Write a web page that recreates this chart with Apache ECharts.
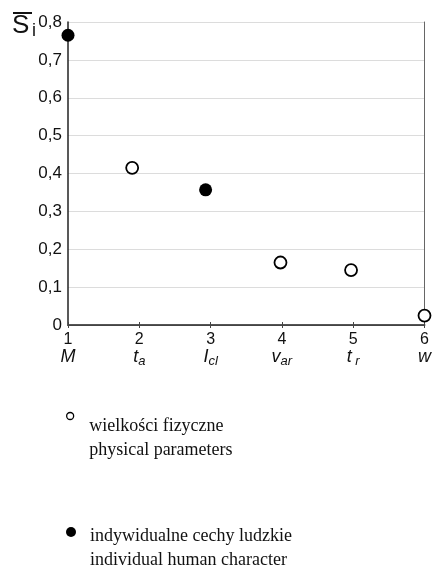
<!DOCTYPE html>
<html><head><meta charset="utf-8">
<script src="https://cdn.jsdelivr.net/npm/echarts@6/dist/echarts.min.js"></script>
<style>html,body{margin:0;padding:0;background:#fff}#c{width:434px;height:578px}</style>
</head><body><div id="c"></div>
<script>
// data
const categoryNumbers = [1, 2, 3, 4, 5, 6];
const categorySymbols = ['{s|M}', '{s|t}{sub|a}', '{s|I}{sub|cl}', '{s|v}{sub|ar}', '{s|t}{sub| r}', '{s|w}'];
const physicalX = [1.9, 3.98, 4.97, 6];
const physicalY = [0.415, 0.165, 0.145, 0.025];
const humanX = [1, 2.93];
const humanY = [0.765, 0.357];
const yTicks = [0, 0.1, 0.2, 0.3, 0.4, 0.5, 0.6, 0.7, 0.8];
const seriesNames = ['wielkości fizyczne', 'indywidualne cechy ludzkie'];
const seriesNamesEn = ['physical parameters', 'individual human character'];

const chart = echarts.init(document.getElementById('c'));
const ff = 'Arial, "Liberation Sans", sans-serif';
const serif = '"Liberation Serif", "Times New Roman", serif';
chart.setOption({
  animation: false,
  grid: { left: 68, right: 5, top: 22, bottom: 253, containLabel: false },
  xAxis: [{
    type: 'value', min: 1, max: 6, interval: 1,
    axisLine: { show: true, lineStyle: { color: '#555', width: 2 } },
    axisTick: { show: true, inside: true, length: 3, lineStyle: { color: '#444' } },
    splitLine: { show: false },
    axisLabel: {
      margin: 7, color: '#111',
      formatter: v => { const i = categoryNumbers.indexOf(v); return i < 0 ? '' : '{n|' + v + '}\n' + categorySymbols[i]; },
      rich: {
        n: { fontSize: 16, fontFamily: ff, lineHeight: 16, color: '#111' },
        s: { fontSize: 18, fontFamily: ff, fontStyle: 'italic', lineHeight: 18, color: '#111' },
        sub: { fontSize: 13, fontFamily: ff, fontStyle: 'italic', lineHeight: 18, padding: [8, 0, 0, 0], color: '#111' }
      }
    }
  }, {
    type: 'value', position: 'top', min: 1, max: 6, interval: 1,
    axisLine: { show: true, lineStyle: { color: '#444' } },
    axisTick: { show: true, inside: true, length: 3, lineStyle: { color: '#444' } },
    axisLabel: { show: false }, splitLine: { show: false }
  }],
  yAxis: [{
    type: 'value', min: yTicks[0], max: yTicks[yTicks.length - 1], interval: 0.1,
    axisLine: { show: true, lineStyle: { color: '#222', width: 1.5 } },
    axisTick: { show: false },
    splitLine: { show: true, lineStyle: { color: '#dcdcdc', width: 1 } },
    axisLabel: { margin: 6, fontSize: 17, fontFamily: ff, color: '#111',
      formatter: v => (Math.round(v * 10) / 10).toString().replace('.', ',') }
  }, {
    type: 'value', position: 'right', min: 0, max: 0.8, interval: 0.1,
    axisLine: { show: true, lineStyle: { color: '#666' } },
    axisTick: { show: false }, axisLabel: { show: false }, splitLine: { show: false }
  }],
  legend: [{
    left: 66, top: 387, padding: 0, orient: 'vertical', data: [seriesNames[0]],
    itemWidth: 28, itemHeight: 7, itemGap: 0, symbolKeepAspect: true,
    itemStyle: { borderWidth: 1.3 },
    textStyle: { color: '#111',
      rich: { pad: { lineHeight: 44, fontSize: 10 }, t: { fontFamily: serif, fontSize: 18, lineHeight: 24, color: '#111' } } },
    formatter: n => '{pad| }\n{t|' + n + '}\n{t|' + seriesNamesEn[0] + '}'
  }, {
    left: 66, top: 503, padding: 0, orient: 'vertical', data: [seriesNames[1]],
    itemWidth: 28, itemHeight: 10, itemGap: 0, symbolKeepAspect: true,
    textStyle: { color: '#111',
      rich: { pad: { lineHeight: 32, fontSize: 10 }, t: { fontFamily: serif, fontSize: 18, lineHeight: 24, color: '#111' } } },
    formatter: n => '{pad| }\n{t|' + n + '}\n{t|' + seriesNamesEn[1] + '}'
  }],
  graphic: [{
    type: 'text', left: 12, top: 13, z: 10,
    style: { text: 'S', font: '26px ' + ff, fill: '#111' }
  }, {
    type: 'rect', shape: { x: 13, y: 12, width: 19, height: 2 }, style: { fill: '#111' }
  }, {
    type: 'text', left: 32, top: 22,
    style: { text: 'i', font: '18px ' + ff, fill: '#111' }
  }],
  series: [{
    name: seriesNames[0], type: 'scatter', symbol: 'circle', symbolSize: 12,
    itemStyle: { color: '#fff', borderColor: '#000', borderWidth: 1.8, opacity: 1 },
    data: physicalX.map((x, i) => [x, physicalY[i]]), clip: false, z: 5
  }, {
    name: seriesNames[1], type: 'scatter', symbol: 'circle', symbolSize: 13,
    itemStyle: { color: '#000', borderColor: '#000', borderWidth: 0, opacity: 1 },
    data: humanX.map((x, i) => [x, humanY[i]]), clip: false, z: 5
  }]
});
</script></body></html>
